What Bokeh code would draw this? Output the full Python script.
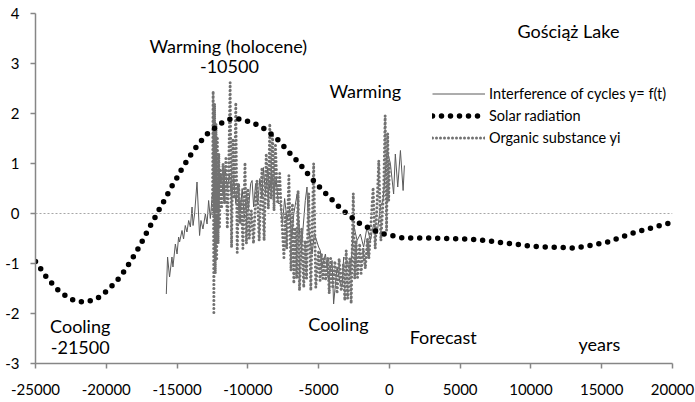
from bokeh.plotting import figure
from bokeh.models import Range1d, FixedTicker, Span, Label, Legend, LegendItem
from bokeh.embed import file_html
from bokeh.resources import INLINE

# ---- data ----
solar_x = [-25000, -24600, -24240, -23800, -23370, -22800, -22260, -21620, -20990, -20400,
           -19900, -19400, -19000, -18630, -18270, -17920, -17600, -17290, -16980, -16650,
           -16350, -16040, -15700, -15400, -15070, -14750, -14400, -14040, -13640, -13240,
           -12800, -11760, -11240, -10530, -9820, -9240, -8640, -7700, -7280, -6800,
           -6330, -5530, -5070, -4640, -4170, -3700, -3180, -2710, -2140, -1580,
           -1000, -350, 300, 1000, 2900, 6200, 7600, 8800, 10200, 12100,
           13000, 14000, 15400, 17300, 19800]
solar_y = [-0.96, -1.12, -1.27, -1.41, -1.54, -1.66, -1.74, -1.77, -1.74, -1.66,
           -1.53, -1.39, -1.26, -1.11, -0.95, -0.79, -0.63, -0.46, -0.29, -0.13,
           0.04, 0.19, 0.37, 0.53, 0.68, 0.85, 1.01, 1.17, 1.33, 1.47,
           1.61, 1.83, 1.89, 1.89, 1.83, 1.76, 1.66, 1.43, 1.28, 1.14,
           0.99, 0.71, 0.57, 0.44, 0.31, 0.17, 0.04, -0.07, -0.19, -0.27,
           -0.35, -0.41, -0.45, -0.49, -0.49, -0.52, -0.57, -0.61, -0.66, -0.68,
           -0.69, -0.65, -0.57, -0.38, -0.19]

interf_x = [-15760, -15670, -15530, -15360, -15290, -15120, -15000, -14890, -14820, -14650,
            -14540, -14420, -14300, -14180, -14060, -13940, -13870, -13760, -13590, -13410,
            -13310, -13170, -13000, -12880, -12770, -12650, -12500, -12350, -12200, -12050,
            -11900, -11750, -11600, -11450, -11300, -11150, -11000, -10850, -10700, -10550,
            -10400, -10250, -10100, -9950, -9800, -9700, -9590, -9450, -9300, -9150,
            -9000, -8900, -8750, -8600, -8450, -8300, -8150, -8000, -7850, -7700,
            -7550, -7400, -7230, -7050, -6900, -6750, -6520, -6290, -6170, -5940,
            -5820, -5720, -5460, -5300, -5000, -4880, -4760, -4520, -4290, -4050,
            -3940, -3700, -3460, -3340, -3230, -2990, -2760, -2520, -2280, -2050,
            -1820, -1580, -1340, -1110, -870, -640, -450, -280, -160, 70,
            300, 420, 590, 780, 970, 1060]
interf_y = [-1.61, -0.87, -1.27, -0.87, -1.07, -0.61, -0.81, -0.47, -0.57, -0.34,
            -0.51, -0.24, -0.37, -0.14, -0.27, 0.13, -0.24, -0.01, 0.63, -0.44,
            -0.14, -0.31, -0.01, -0.21, 0.26, -0.10, 0.40, 0.10, 0.70, 0.30,
            0.80, 0.40, 0.90, 0.50, 0.80, 0.30, 0.70, 0.20, 0.60, 0.00,
            0.50, -0.10, 0.40, 0.10, 0.60, 0.66, 0.13, 0.60, 0.20, 0.70,
            0.30, 0.92, 0.40, 0.90, 0.50, 0.80, 0.40, 0.70, 0.20, 0.20,
            -0.20, 0.30, -0.14, 0.10, -0.50, 0.00, 0.39, -0.60, -0.54, 0.26,
            0.53, -0.27, -0.81, -0.40, -0.67, -0.74, -1.07, -0.81, -1.34, -0.94,
            -1.81, -1.07, -1.41, -1.47, -0.87, -0.94, -1.21, -0.24, -0.54, -0.41,
            -0.67, -0.27, -0.54, -0.21, -0.41, 0.13, 0.26, 0.86, 1.26, 1.00,
            0.39, 1.19, 0.53, 1.26, 0.46, 0.96]

organic_x = [-12500, -12450, -12400, -12350, -12300, -12250, -12200, -12150, -12100, -12050,
             -12000, -11950, -11850, -11750, -11650, -11550, -11450, -11350, -11250, -11150,
             -11050, -10950, -10850, -10750, -10650, -10550, -10450, -10350, -10200, -10100,
             -10000, -9900, -9750, -9600, -9500, -9350, -9200, -9000, -8850, -8700,
             -8550, -8450, -8350, -8250, -8150, -8050, -7900, -7750, -7650, -7450,
             -7350, -7250, -7100, -6950, -6850, -6750, -6650, -6550, -6450, -6350,
             -6200, -6050, -5950, -5850, -5700, -5550, -5350, -5200, -5000, -4900,
             -4800, -4700, -4600, -4500, -4350, -4250, -4150, -4000, -3850, -3700,
             -3550, -3400, -3250, -3150, -3050, -2950, -2800, -2700, -2550, -2450,
             -2350, -2250, -2100, -2000, -1850, -1700, -1550, -1450, -1150, -1000,
             -750, -600, -400, -300, -200, -120, -50, 0]
organic_y = [0.00, 2.45, -1.98, 2.20, -1.20, 1.80, -0.90, 1.50, -0.60, 1.20,
             -0.30, 0.90, 0.10, 1.00, 0.20, 1.10, -0.30, 0.90, 2.62, -0.68,
             1.50, 0.30, 2.22, -0.78, 0.60, -0.20, 0.26, -0.70, 1.02, -0.60,
             0.50, -0.50, 0.06, -0.60, 0.00, 0.66, -0.54, 0.92, -0.54, 1.20,
             0.10, 1.80, 0.30, 1.60, 0.06, 1.40, 0.20, 0.80, 0.12, -0.88,
             0.00, -0.70, 0.76, -1.14, 0.20, -1.40, -0.28, -1.30, 0.46, -1.54,
             -0.30, -1.48, -0.54, -1.30, 0.40, -1.54, 1.00, -1.48, -0.74, -1.34,
             -0.80, -1.30, -0.90, -1.34, -0.88, -1.60, -0.90, -1.50, -0.95, -1.60,
             -0.90, -1.55, -1.00, -1.74, -0.74, -1.70, -0.90, -1.80, 0.40, -1.30,
             -0.54, -1.28, -0.60, -1.20, -0.70, -1.10, -0.50, -0.90, 0.52, -0.70,
             1.06, -0.54, 0.50, 1.96, -0.34, 1.60, 0.26, 1.00]

x_ticks = [-25000, -20000, -15000, -10000, -5000, 0, 5000, 10000, 15000, 20000]
x_tick_labels = ["-25000", "-20000", "-15000", "-10000", "-5000", "0", "5000", "10000", "15000", "20000"]
y_ticks = [-3, -2, -1, 0, 1, 2, 3, 4]
y_tick_labels = ["-3", "-2", "-1", "0", "1", "2", "3", "4"]

FONT = "Lato"
AXIS_GRAY = "#868686"

p = figure(width=695, height=402, x_range=Range1d(-25000, 20000), y_range=Range1d(-3, 4),
           output_backend="svg", toolbar_location=None,
           min_border_left=35, min_border_right=23, min_border_top=13, min_border_bottom=39)
p.outline_line_color = None
p.xgrid.visible = False
p.ygrid.visible = False
p.background_fill_color = "white"
p.border_fill_color = "white"

for ax, ticks, labels in ((p.xaxis[0], x_ticks, x_tick_labels), (p.yaxis[0], y_ticks, y_tick_labels)):
    ax.ticker = FixedTicker(ticks=ticks)
    ax.major_label_overrides = {t: l for t, l in zip(ticks, labels)}
    ax.axis_line_color = AXIS_GRAY
    ax.axis_line_width = 1.5
    ax.major_tick_line_color = AXIS_GRAY
    ax.major_tick_line_width = 1.5
    ax.major_tick_in = 0
    ax.major_tick_out = 5
    ax.minor_tick_line_color = None
    ax.major_label_text_font = FONT
    ax.major_label_text_font_size = "15px"
    ax.major_label_text_color = "black"
p.xaxis[0].major_label_standoff = 15
p.yaxis[0].major_label_standoff = 11

p.add_layout(Span(location=0, dimension="width", line_color="#a6a6a6", line_width=1, line_dash="2 2"))

r_int = p.line(interf_x, interf_y, line_color="#5a5a5a", line_width=1)
r_org = p.line(organic_x, organic_y, line_color="#727272", line_width=3,
               line_dash="0 4", line_cap="round", line_join="round")
r_sol = p.line(solar_x, solar_y, line_color="black", line_width=5.5,
               line_dash="0 9", line_cap="round", line_join="round")

legend = Legend(items=[LegendItem(label="Interference of cycles y= f(t)", renderers=[r_int]),
                       LegendItem(label="Solar radiation", renderers=[r_sol]),
                       LegendItem(label="Organic substance yi", renderers=[r_org])],
                location=(397, 216), orientation="vertical",
                border_line_color=None, background_fill_alpha=0,
                label_text_font=FONT, label_text_font_size="14.5px", label_text_color="black",
                glyph_width=53, glyph_height=19, label_height=19, label_standoff=4,
                padding=0, spacing=3, margin=0)
p.add_layout(legend, "center")

annotations = [
    ("Warming (holocene)", -11380, 3.36),
    ("-10500", -11300, 2.94),
    ("Warming", -1700, 2.46),
    ("Gościąż Lake", 12650, 3.66),
    ("Cooling", -3600, -2.2),
    ("Cooling", -21840, -2.24),
    ("-21500", -21840, -2.68),
    ("Forecast", 3800, -2.46),
    ("years", 14840, -2.6),
]
for txt, ax_, ay_ in annotations:
    p.add_layout(Label(x=ax_, y=ay_, text=txt, text_align="center", text_baseline="middle",
                       text_font=FONT, text_font_size="18px", text_color="black"))

open("out.html", "w").write(file_html(p, INLINE))
